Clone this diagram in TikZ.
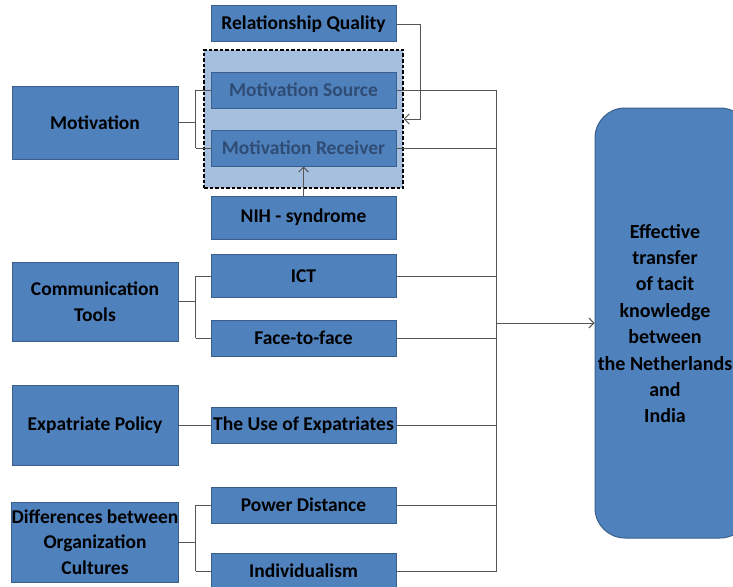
\documentclass[tikz,border=0pt]{standalone}
\usepackage{fontspec}
\setmainfont{Carlito}
\usetikzlibrary{arrows.meta}

\definecolor{boxblue}{HTML}{4F81BD}
\definecolor{boxedge}{HTML}{3A5F8C}
\definecolor{grpblue}{HTML}{A7BFDE}
\definecolor{fadedtext}{HTML}{2F4C74}
\definecolor{linegray}{HTML}{555555}

\tikzset{
  box/.style={draw=boxedge, fill=boxblue, line width=1pt, inner sep=0pt,
    align=center, text=black,
    font=\bfseries\fontsize{19.5}{25.5}\selectfont},
  leftbox/.style={box, minimum width=166pt},
  midbox/.style={box, minimum width=185pt},
  grpbox/.style={draw=black, fill=grpblue, line width=1.3pt,
    dash pattern=on 3.5pt off 2pt, inner sep=0pt,
    minimum width=199pt, minimum height=138pt},
  conn/.style={draw=linegray, line width=0.9pt},
  arr/.style={conn, -{Straight Barb[length=5pt,width=10pt]}}
}

\begin{document}
\begin{tikzpicture}[x=1pt,y=-1pt]
\useasboundingbox (0,0) rectangle (733,586);

% motivation cluster
\node[grpbox] (grp) at (303.5,119) {};
\node[midbox, minimum height=36pt] (rq) at (303.5,24) {Relationship Quality};
\node[midbox, minimum height=36pt, text=fadedtext] (ms) at (303.5,90) {Motivation Source};
\node[midbox, minimum height=36pt, text=fadedtext] (mr) at (303.5,148) {Motivation Receiver};
\node[midbox, minimum height=43pt] (nih) at (303.5,217.5) {NIH - syndrome};
\node[leftbox, minimum height=73pt] (mot) at (95,122.5) {Motivation};

% communication tools
\node[leftbox, minimum height=79pt] (comm) at (95,301.5) {Communication\\Tools};
\node[midbox, minimum height=43pt] (ict) at (303.5,276) {ICT};
\node[midbox, minimum height=36pt] (f2f) at (303.5,338) {Face-to-face};

% expatriates
\node[leftbox, minimum height=80pt] (exp) at (95,425) {Expatriate Policy};
\node[midbox, minimum height=36pt] (use) at (303.5,425) {The Use of Expatriates};

% organisation cultures
\node[leftbox, minimum height=80pt] (diff) at (95,542) {Differences between\\Organization\\Cultures};
\node[midbox, minimum height=36pt] (pd) at (303.5,505) {Power Distance};
\node[midbox, minimum height=36pt] (ind) at (303.5,571) {Individualism};

% outcome
\node[box, rounded corners=30pt, minimum width=155pt, minimum height=430pt] (eff) at (672.5,323) {};
\node[font=\bfseries\fontsize{20}{26.4}\selectfont, align=center, text=black] (efftext) at (665,323.5)
  {Effective\\transfer\\of tacit\\knowledge\\between\\the Netherlands\\and\\India};

% left-hand brackets
\draw[conn] (mot.east) -- ++(17,0) coordinate (jm);
\draw[conn] (jm |- ms.west) -- (jm |- mr.west);
\draw[conn] (jm |- ms.west) -- (ms.west);
\draw[conn] (jm |- mr.west) -- (mr.west);

\draw[conn] (comm.east) -- ++(17,0) coordinate (jc);
\draw[conn] (jc |- ict.west) -- (jc |- f2f.west);
\draw[conn] (jc |- ict.west) -- (ict.west);
\draw[conn] (jc |- f2f.west) -- (f2f.west);

\draw[conn] (exp.east) -- (use.west);

\draw[conn] (diff.east) -- ++(17,0) coordinate (jd);
\draw[conn] (jd |- pd.west) -- (jd |- ind.west);
\draw[conn] (jd |- pd.west) -- (pd.west);
\draw[conn] (jd |- ind.west) -- (ind.west);

% influences on motivation
\draw[arr] (rq.east) -- ++(24,0) |- (grp.east);
\draw[arr] (nih.north) -- (mr.south);

% collecting bus towards the outcome
\coordinate (bus) at (496,0);
\draw[conn] (ms.east) -| (bus |- ind.east) -- (ind.east);
\draw[conn] (mr.east) -- (bus |- mr.east);
\draw[conn] (ict.east) -- (bus |- ict.east);
\draw[conn] (f2f.east) -- (bus |- f2f.east);
\draw[conn] (use.east) -- (bus |- use.east);
\draw[conn] (pd.east) -- (bus |- pd.east);
\draw[arr] (bus |- eff.west) -- (eff.west);
\end{tikzpicture}
\end{document}
